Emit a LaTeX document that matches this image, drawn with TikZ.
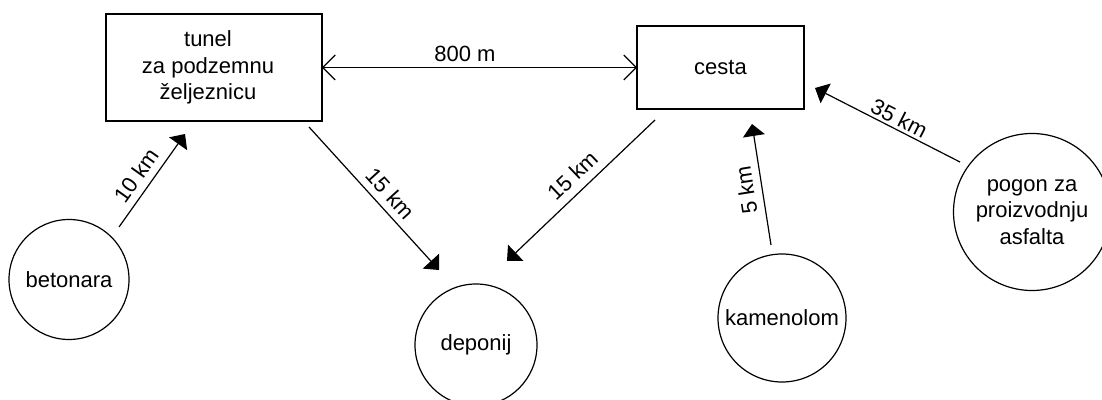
\documentclass[tikz,border=0pt]{standalone}
\usepackage{fontspec}
\setmainfont{Liberation Sans}
\usetikzlibrary{arrows.meta}
\begin{document}
\begin{tikzpicture}[x=0.5pt,y=-0.5pt,
  every node/.style={font=\fontsize{11}{13.25}\selectfont},
  box/.style={draw, line width=0.6pt, rectangle, align=center, inner sep=0pt, outer sep=0pt},
  place/.style={draw, line width=0.6pt, circle, align=center, inner sep=0pt, outer sep=0pt},
  flow/.style={line width=0.6pt, -{Triangle[length=6pt,width=11pt]}},
  both/.style={line width=0.6pt, {Straight Barb[length=6.2pt,width=12.5pt]}-{Straight Barb[length=6.2pt,width=12.5pt]}},
  dist/.style={sloped, above, inner sep=3.6pt}
  ]
\useasboundingbox (0,0) rectangle (1102,400);

% nodes
\node[box, minimum width=108pt, minimum height=53.5pt,
      label={[align=center, xshift=-3pt]center:tunel\\za podzemnu\\željeznicu}] (tunel) at (214,67.5) {};
\node[box, minimum width=83.5pt, minimum height=41.5pt] (cesta) at (720.5,67.5) {cesta};
\node[place, minimum size=60pt] (betonara) at (69,279.5) {betonara};
\node[place, minimum size=61pt] (deponij) at (476,345) {deponij};
\node[place, minimum size=64pt] (kamenolom) at (782,318) {kamenolom};
\node[place, minimum size=78.5pt] (pogon) at (1032,212) {pogon za\\proizvodnju\\asfalta};

% free ends of the connectors
\coordinate (b1) at (119,227);  \coordinate (b2) at (185,134);
\coordinate (t1) at (309,127);  \coordinate (d1) at (439,270);
\coordinate (c1) at (655,120);  \coordinate (d2) at (507,261);
\coordinate (k1) at (771,245);  \coordinate (c2) at (752,124);
\coordinate (p1) at (960,162);  \coordinate (c3) at (815,88);

% connectors
\draw[both] (tunel.east) -- node[pos=0.454, above, inner sep=2.5pt] {800 m} (cesta.west);
\draw[flow] (b1) -- node[dist, pos=0.456, inner sep=3.5pt] {10 km} (b2);
\draw[flow] (t1) -- node[dist, pos=0.54, inner sep=3.4pt] {15 km} (d1);
\draw[flow] (c1) -- node[dist, pos=0.48, inner sep=4pt] {15 km} (d2);
\draw[flow] (k1) -- node[dist, allow upside down, pos=0.475, inner sep=3.7pt] {5 km} (c2);
\draw[flow] (p1) -- node[dist, pos=0.454, inner sep=1.25pt] {35 km} (c3);
\end{tikzpicture}
\end{document}
